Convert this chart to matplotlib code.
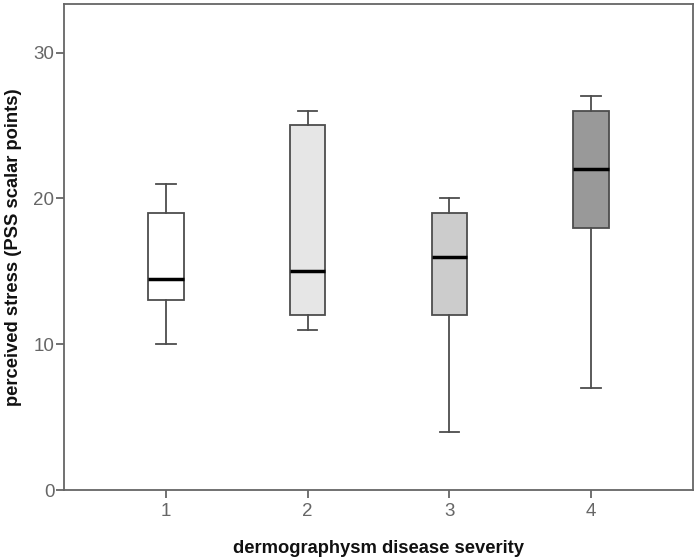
import matplotlib
matplotlib.use("Agg")
import matplotlib.pyplot as plt

plt.rcParams['font.family'] = ['Liberation Sans', 'DejaVu Sans']

categories = ["1", "2", "3", "4"]
whisker_low = [10, 11, 4, 7]
q1 = [13, 12, 12, 18]
median = [14.5, 15, 16, 22]
q3 = [19, 25, 19, 26]
whisker_high = [21, 26, 20, 27]
fills = ["#ffffff", "#e6e6e6", "#cccccc", "#999999"]

fig = plt.figure(figsize=(6.98, 5.59), dpi=100)
ax = fig.add_axes([0.0917, 0.1234, 0.9011, 0.8686])

stats = []
for i, c in enumerate(categories):
    stats.append(dict(label=c, whislo=whisker_low[i], q1=q1[i], med=median[i],
                      q3=q3[i], whishi=whisker_high[i], fliers=[]))

pos = list(range(1, len(categories) + 1))
edge = "#4d4d4d"
bp = ax.bxp(stats, positions=pos, widths=0.25, patch_artist=True, showfliers=False,
            boxprops=dict(edgecolor=edge, linewidth=1.3),
            whiskerprops=dict(color=edge, linewidth=1.3),
            capprops=dict(color=edge, linewidth=1.3),
            medianprops=dict(color="black", linewidth=2.5),
            capwidths=0.135)
for patch, f in zip(bp['boxes'], fills):
    patch.set_facecolor(f)

ax.set_xlim(0.28, 4.72)
ax.set_ylim(0, 33.3)
ax.set_yticks([0, 10, 20, 30])
ax.set_xticks(pos)
ax.set_xticklabels(categories)

for s in ax.spines.values():
    s.set_color("#666666")
    s.set_linewidth(1.3)
ax.tick_params(axis='both', colors="#666666", labelcolor="#666666", labelsize=13.5,
               length=6, width=1.3, direction='out')
ax.tick_params(axis='y', pad=1)

ax.set_xlabel("dermographysm disease severity", fontsize=13.2, fontweight='bold',
              color="#111111", labelpad=14)
ax.set_ylabel("perceived stress (PSS scalar points)", fontsize=13.2, fontweight='bold',
              color="#111111", labelpad=8)

fig.savefig("out.png", dpi=100)
